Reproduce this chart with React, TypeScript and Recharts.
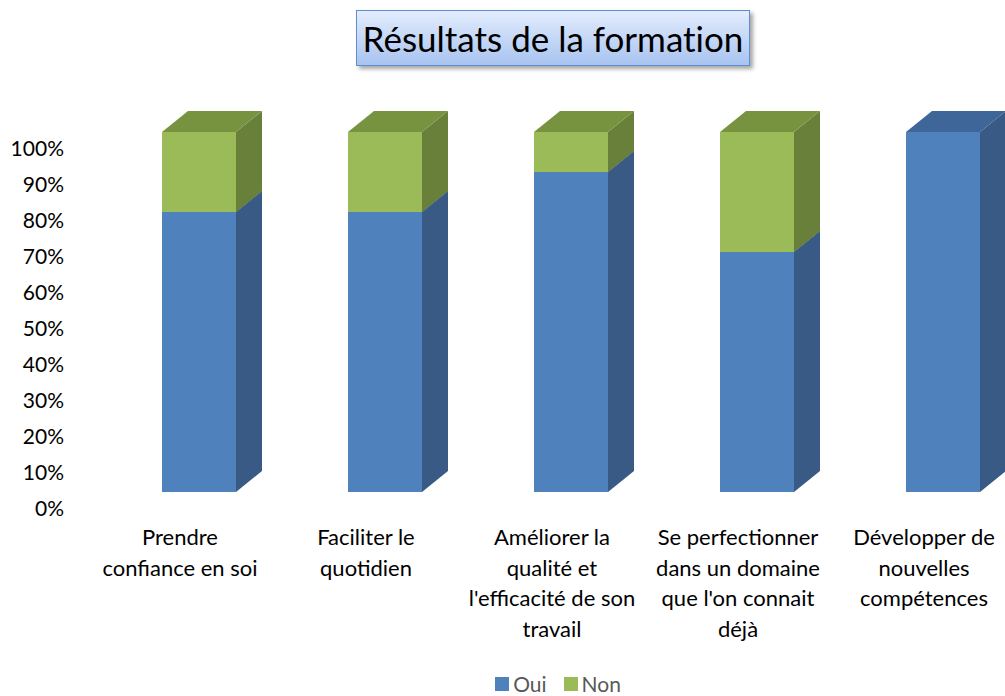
import { BarChart, Bar, XAxis, YAxis } from "recharts";

const categories = [
  ["Prendre", "confiance en soi"],
  ["Faciliter le", "quotidien"],
  ["Améliorer la", "qualité et", "l'efficacité de son", "travail"],
  ["Se perfectionner", "dans un domaine", "que l'on connait", "déjà"],
  ["Développer de", "nouvelles", "compétences"],
];
const oui = [7, 7, 8, 6, 9];
const non = [2, 2, 1, 3, 0];
const yTicks = [0, 0.1, 0.2, 0.3, 0.4, 0.5, 0.6, 0.7, 0.8, 0.9, 1];

const series = [
  { key: "oui", name: "Oui", front: "#4f81bd", side: "#385a85", top: "#3f6699" },
  { key: "non", name: "Non", front: "#9bbb59", side: "#69803a", top: "#77933f" },
];

const data = categories.map((lines, i) => ({ name: lines.join(" "), lines, oui: oui[i], non: non[i] }));

const FONT = "Lato, 'Noto Sans', sans-serif";
const DX = 26;
const DY = -21;
const SHIFT = 19;

function Box3D(props: any) {
  const { x, y, width, height, front, side, top } = props;
  if (!height || height <= 0) return null;
  const l = x + SHIFT;
  const r = l + width;
  const b = y + height;
  return (
    <g>
      <rect x={l} y={y} width={width} height={height} fill={front} />
      <polygon points={`${r},${b} ${r},${y} ${r + DX},${y + DY} ${r + DX},${b + DY}`} fill={side} />
      <polygon points={`${l},${y} ${r},${y} ${r + DX},${y + DY} ${l + DX},${y + DY}`} fill={top} />
    </g>
  );
}

function XTick(props: any) {
  const { x, y, payload } = props;
  const lines: string[] = data[payload.index]?.lines ?? [payload.value];
  return (
    <text x={x} y={y + 53} textAnchor="middle" fontFamily={FONT} fontSize={22} fill="#000">
      {lines.map((ln, i) => (
        <tspan key={i} x={x} dy={i === 0 ? 0 : 30.5}>
          {ln}
        </tspan>
      ))}
    </text>
  );
}

function YTick(props: any) {
  const { y, payload } = props;
  return (
    <text x={64} y={y + 17} dy={7} textAnchor="end" fontFamily={FONT} fontSize={21} fill="#000">
      {Math.round(payload.value * 100)}%
    </text>
  );
}

export default function App() {
  return (
    <div style={{ position: "relative", width: 1005, height: 696, overflow: "hidden", background: "#fff" }}>
      <style>{"body{margin:0}"}</style>
      <BarChart
        width={1017}
        height={696}
        data={data}
        stackOffset="expand"
        margin={{ top: 132, right: 0, left: 0, bottom: 64 }}
      >
        <XAxis
          dataKey="name"
          height={140}
          axisLine={false}
          tickLine={false}
          tickSize={0}
          tickMargin={0}
          tick={<XTick />}
          interval={0}
        />
        <YAxis
          width={87}
          domain={[0, 1]}
          ticks={yTicks}
          axisLine={false}
          tickLine={false}
          tickSize={0}
          tickMargin={0}
          tick={<YTick />}
        />
        {series.map((s) => (
          <Bar
            key={s.key}
            dataKey={s.key}
            name={s.name}
            stackId="a"
            barSize={74}
            isAnimationActive={false}
            shape={(p: any) => <Box3D {...p} front={s.front} side={s.side} top={s.top} />}
          />
        ))}
      </BarChart>
      <div
        style={{
          position: "absolute",
          left: 356,
          top: 10,
          width: 392,
          height: 54,
          border: "1px solid #5f8fd1",
          background: "linear-gradient(#e3edfd, #a8c3f0)",
          boxShadow: "3px 3px 4px rgba(0,0,0,0.35)",
          display: "flex",
          alignItems: "center",
          justifyContent: "center",
          fontFamily: FONT,
          fontSize: 35,
          fontVariantLigatures: "none",
          color: "#000",
        }}
      >
        Résultats de la formation
      </div>
      <div
        style={{
          position: "absolute",
          left: 0,
          top: 671,
          width: 1005,
          display: "flex",
          justifyContent: "center",
          paddingLeft: 111,
          boxSizing: "border-box",
          gap: 17,
          fontFamily: FONT,
          fontSize: 21,
          color: "#595959",
        }}
      >
        {series.map((s) => (
          <div key={s.key} style={{ display: "flex", alignItems: "center", gap: 4 }}>
            <span style={{ display: "inline-block", width: 14, height: 14, background: s.front }} />
            <span>{s.name}</span>
          </div>
        ))}
      </div>
    </div>
  );
}
